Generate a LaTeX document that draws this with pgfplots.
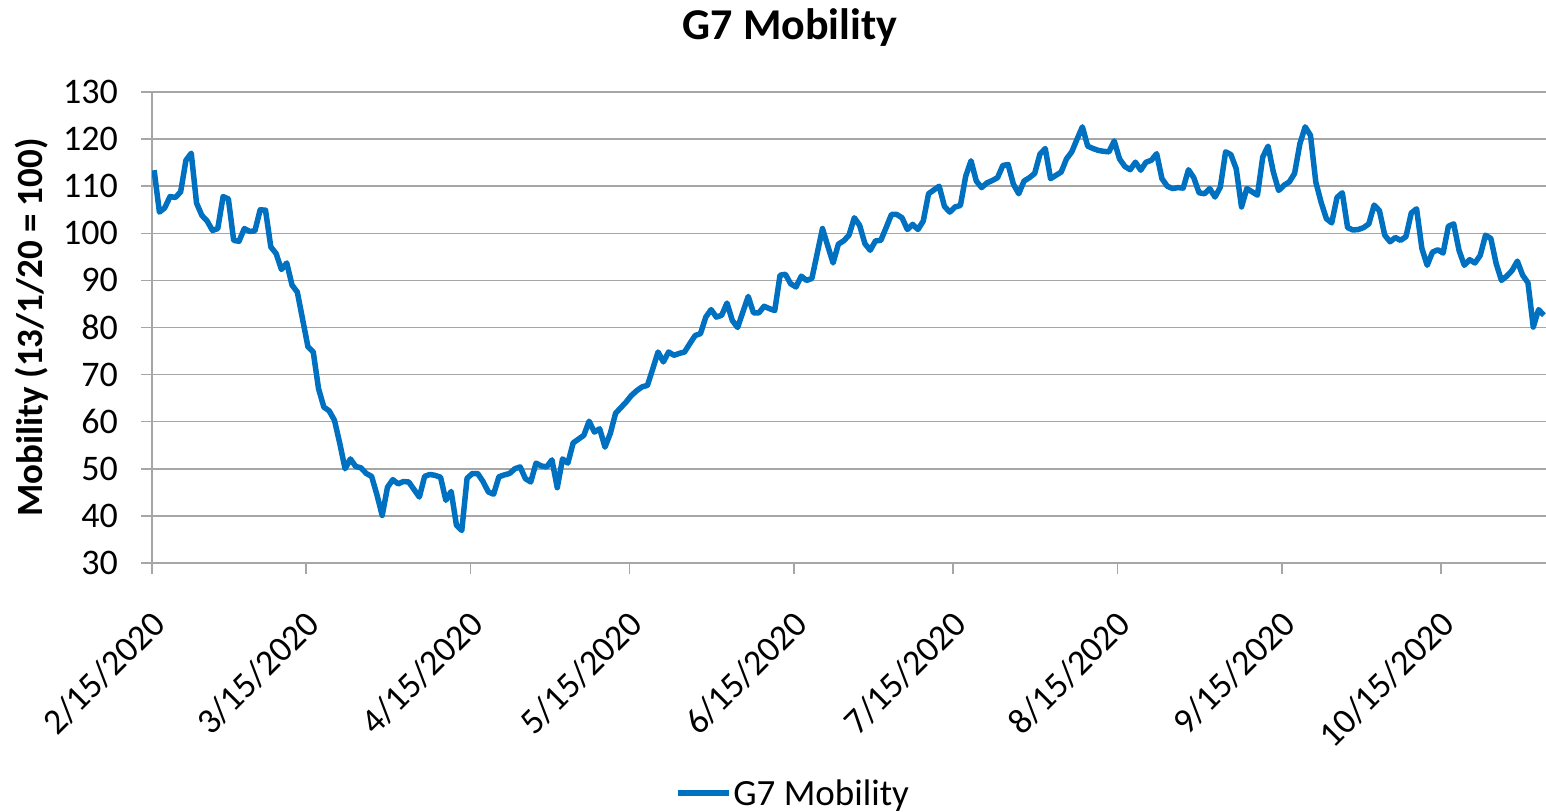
\documentclass[border=0pt]{standalone}
\usepackage{fontspec}
\setmainfont{Carlito}
\usepackage{pgfplots}
\usepackage{pgfplotstable}
\pgfplotsset{compat=1.18}
\definecolor{xlblue}{HTML}{0070C0}
\definecolor{gridgrey}{HTML}{A6A6A6}

\pgfplotstableread{
d v
0 113.4
1 104.5
2 105.4
3 107.8
4 107.6
5 108.8
6 115.5
7 117.0
8 106.4
9 103.8
10 102.6
11 100.6
12 101.0
13 107.8
14 107.3
15 98.5
16 98.3
17 101.0
18 100.4
19 100.5
20 105.0
21 104.9
22 97.1
23 95.7
24 92.3
25 93.7
26 89.0
27 87.5
28 81.7
29 75.9
30 74.8
31 67.0
32 63.1
33 62.3
34 60.3
35 55.4
36 50.0
37 52.1
38 50.5
39 50.2
40 49.0
41 48.4
42 44.5
43 40.1
44 46.1
45 47.7
46 46.8
47 47.3
48 47.2
49 45.6
50 44.0
51 48.4
52 48.8
53 48.6
54 48.2
55 43.3
56 45.2
57 38.0
58 36.9
59 48.0
60 49.0
61 49.0
62 47.3
63 45.1
64 44.6
65 48.3
66 48.7
67 49.0
68 50.0
69 50.4
70 47.9
71 47.2
72 51.2
73 50.6
74 50.4
75 51.9
76 46.0
77 52.1
78 51.2
79 55.5
80 56.3
81 57.1
82 60.1
83 57.8
84 58.5
85 54.6
86 57.5
87 61.8
88 63.0
89 64.2
90 65.6
91 66.6
92 67.4
93 67.7
94 71.2
95 74.8
96 72.7
97 74.8
98 74.1
99 74.5
100 74.8
101 76.6
102 78.3
103 78.7
104 82.2
105 83.8
106 82.2
107 82.6
108 85.2
109 81.5
110 80.0
111 83.3
112 86.6
113 83.1
114 83.1
115 84.5
116 84.0
117 83.6
118 91.1
119 91.3
120 89.3
121 88.6
122 90.9
123 90.0
124 90.4
125 95.7
126 101.0
127 97.3
128 93.7
129 97.7
130 98.4
131 99.6
132 103.3
133 101.7
134 97.8
135 96.4
136 98.4
137 98.5
138 101.2
139 104.0
140 104.0
141 103.3
142 100.8
143 101.9
144 100.8
145 102.6
146 108.4
147 109.2
148 110.0
149 105.7
150 104.5
151 105.6
152 105.9
153 112.1
154 115.4
155 111.1
156 109.7
157 110.7
158 111.2
159 111.8
160 114.4
161 114.6
162 110.4
163 108.4
164 111.1
165 111.8
166 112.7
167 116.8
168 118.0
169 111.6
170 112.3
171 113.0
172 115.8
173 117.3
174 120.0
175 122.6
176 118.5
177 118.0
178 117.6
179 117.4
180 117.3
181 119.6
182 115.8
183 114.2
184 113.5
185 115.1
186 113.4
187 115.1
188 115.5
189 116.9
190 111.6
191 110.0
192 109.5
193 109.7
194 109.6
195 113.5
196 111.8
197 108.6
198 108.4
199 109.5
200 107.7
201 109.8
202 117.3
203 116.7
204 113.7
205 105.6
206 109.5
207 108.8
208 108.1
209 116.2
210 118.5
211 113.0
212 109.1
213 110.2
214 110.9
215 112.7
216 119.0
217 122.6
218 120.8
219 110.9
220 106.6
221 103.1
222 102.2
223 107.6
224 108.6
225 101.2
226 100.7
227 100.8
228 101.2
229 102.0
230 106.0
231 104.8
232 99.6
233 98.2
234 99.1
235 98.5
236 99.3
237 104.3
238 105.2
239 96.8
240 93.2
241 96.0
242 96.5
243 95.8
244 101.5
245 102.0
246 96.4
247 93.2
248 94.4
249 93.7
250 95.3
251 99.6
252 98.9
253 93.6
254 90.0
255 90.9
256 92.1
257 94.1
258 91.1
259 89.5
260 80.1
261 83.8
262 82.6
}\mobility

\begin{document}
\begin{tikzpicture}
\path[use as bounding box] (0,0) rectangle (1546bp,812bp);
\node[anchor=base, font=\fontsize{44bp}{52bp}\selectfont\bfseries] at (790bp,772bp) {G7 Mobility};
\begin{axis}[
  at={(152bp,249bp)}, anchor=south west,
  scale only axis, width=1394bp, height=471bp,
  xmin=0, xmax=262.8, ymin=30, ymax=130,
  ytick={30,40,...,130},
  xtick={0,29,60,90,121,151,182,213,243},
  xticklabels={2/15/2020,3/15/2020,4/15/2020,5/15/2020,6/15/2020,7/15/2020,8/15/2020,9/15/2020,10/15/2020},
  axis x line*=bottom, axis y line*=left,
  axis line style={gridgrey, line width=1.5bp, -},
  ymajorgrids, major grid style={gridgrey, line width=1.5bp},
  tick align=outside, major tick length=11bp,
  tick style={gridgrey, line width=1.5bp},
  every tick label/.append style={font=\fontsize{36bp}{43bp}\selectfont},
  /pgf/number format/assume math mode=true,
  yticklabel style={anchor=east, inner sep=0pt, xshift=-23bp},
  xticklabel style={rotate=45, anchor=east, inner sep=0pt, yshift=-36bp, xshift=-26bp},
  ylabel={Mobility (13/1/20 = 100)},
  every axis y label/.style={at={(axis description cs:-0.0861,0.5)}, rotate=90, anchor=center, font=\fontsize{37bp}{44bp}\selectfont\bfseries},
  legend style={at={(axis description cs:0.4598,-0.4883)}, anchor=center, draw=none, fill=none,
    font=\fontsize{37bp}{44bp}\selectfont, inner sep=0pt},
  legend image code/.code={\draw[#1] (0bp,0bp) -- (51bp,0bp);},
]
\addplot[xlblue, line width=5.5bp, line join=round] table[x expr=\thisrow{d}+0.4, y=v] {\mobility};
\addlegendentry{G7 Mobility}
\end{axis}
\end{tikzpicture}
\end{document}
